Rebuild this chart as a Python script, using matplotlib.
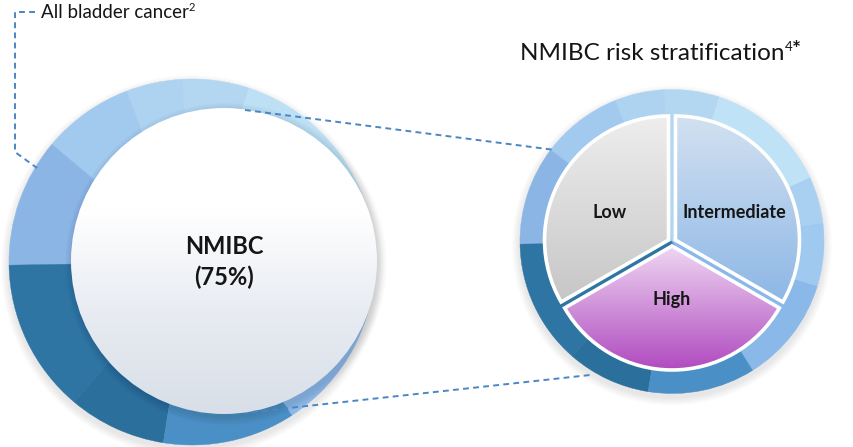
"""NMIBC share of all bladder cancer and its risk stratification, as two ring diagrams."""

import matplotlib

matplotlib.use("Agg")
import matplotlib.pyplot as plt
import numpy as np
from matplotlib.colors import LinearSegmentedColormap
from matplotlib.patches import Circle, Wedge

W, H = 854, 447

# outer ring facets of the "all bladder cancer" circle (degrees, counter-clockwise)
LEFT_RING_EDGES = [-57, 0, 72, 93, 111, 140, 181, 230, 261, 303]
LEFT_RING_COLORS = ["#8cb9e8", "#bde0f5", "#b3d6f1", "#aed3f0", "#a2c9ee",
                    "#8ab5e5", "#2e75a3", "#2b6f9d", "#4a8fc5"]

# outer ring facets of the risk circle
RIGHT_RING_EDGES = [-58, -17, 7, 25, 72, 93, 112, 143, 181, 229, 261, 302]
RIGHT_RING_COLORS = ["#8ab8e8", "#a0c9ef", "#a9d0f1", "#bfe2f6", "#b3d6f1",
                     "#aed3f0", "#a2c9ee", "#8ab5e5", "#2e75a3", "#2b6f9d",
                     "#4a8fc5"]

CENTER_LABEL = "NMIBC\n(75%)"
RISK_LABELS = ["Low", "High", "Intermediate"]
RISK_SHARES = [1, 1, 1]
RISK_TOP = ["#eeeeee", "#efd7f2", "#d3e1f1"]
RISK_BOTTOM = ["#c6c6c6", "#b04ac0", "#8db7e6"]

LINE_COLOR = "#4a86c4"
FONT = ["Lato", "DejaVu Sans"]
INK = "#151515"


def fy(y):
    return H - y


def gradient(ax, patch, top, bottom, stops=None, z=3):
    x0, y0, x1, y1 = patch.get_path().get_extents(patch.get_patch_transform()).extents
    colors = [bottom, top] if stops is None else stops
    cmap = LinearSegmentedColormap.from_list("g", colors)
    img = ax.imshow(np.linspace(0, 1, 256).reshape(-1, 1), cmap=cmap, origin="lower",
                    extent=[x0, x1, y0, y1], aspect="auto", zorder=z,
                    interpolation="bicubic")
    img.set_clip_path(patch)


def ring(ax, center, r, edges, colors):
    for a0, a1, c in zip(edges[:-1], edges[1:], colors):
        ax.add_patch(Wedge(center, r, a0, a1, facecolor=c, edgecolor=c,
                           linewidth=0.3, zorder=2))


def shadow(ax, center, r, dy=4, z=1):
    for k in range(8):
        ax.add_patch(Circle((center[0], center[1] - dy), r + 8 - k,
                            facecolor="#000000", alpha=0.012, linewidth=0, zorder=z))


fig = plt.figure(figsize=(W / 100, H / 100), dpi=100)
ax = fig.add_axes([0, 0, 1, 1])
ax.set_xlim(0, W)
ax.set_ylim(0, H)
ax.axis("off")

# left: all bladder cancer
left_c = (192, fy(262))
shadow(ax, left_c, 183)
ring(ax, left_c, 183, LEFT_RING_EDGES, LEFT_RING_COLORS)
white_c = (224, fy(261))
shadow(ax, (white_c[0] + 2, white_c[1]), 153, dy=3, z=2.5)
disc = Circle(white_c, 153, facecolor="none", edgecolor="none", zorder=3)
ax.add_patch(disc)
gradient(ax, disc, None, None, stops=["#d8dfe8", "#e8ecf2", "#ffffff", "#ffffff"], z=3)
ax.text(white_c[0], white_c[1] - 1, CENTER_LABEL, ha="center", va="center",
        fontsize=17, fontweight="bold", family=FONT, color=INK,
        linespacing=1.35, zorder=6)

# right: risk stratification
right_c = (672, fy(241.5))
shadow(ax, right_c, 152)
ring(ax, right_c, 152, RIGHT_RING_EDGES, RIGHT_RING_COLORS)

pie_c = (672, fy(242))
angles = np.cumsum([0] + RISK_SHARES) / sum(RISK_SHARES) * 360 + 90
for i, label in enumerate(RISK_LABELS):
    a0, a1 = angles[i], angles[i + 1]
    mid = np.deg2rad((a0 + a1) / 2)
    c = (pie_c[0] + 4 * np.cos(mid), pie_c[1] + 4 * np.sin(mid))
    w = Wedge(c, 124, a0, a1, facecolor="none", edgecolor="none", zorder=3)
    ax.add_patch(w)
    gradient(ax, w, RISK_TOP[i], RISK_BOTTOM[i], z=3)
    ax.add_patch(Wedge(c, 124, a0, a1, facecolor="none", edgecolor="white",
                       linewidth=2.6, zorder=4))
    lx = pie_c[0] + 72 * np.cos(mid)
    ly = pie_c[1] + 58 * np.sin(mid)
    ax.text(lx, ly, label, ha="center", va="center", fontsize=13,
            fontweight="bold", family=FONT, color=INK, zorder=6)

# connectors
dash = dict(color=LINE_COLOR, linewidth=1.4, linestyle=(0, (3, 2.2)), zorder=5)
ax.plot([35, 15, 15, 37], [fy(12), fy(12), fy(152), fy(168)], **dash)
ax.plot([245, 555], [fy(110), fy(150)], **dash)
ax.plot([252, 590], [fy(412), fy(375)], **dash)

lab = ax.text(41, fy(12), "All bladder cancer", ha="left", va="center",
              fontsize=13.5, family=FONT, color=INK)
ax.annotate("2", xy=(1, 1.08), xycoords=lab, ha="left", va="top",
            fontsize=8, family=FONT, color=INK)

title = ax.text(520, fy(53), "NMIBC risk stratification", ha="left", va="center",
                fontsize=17.5, family=FONT, color=INK)
sup = ax.annotate("4", xy=(1, 1.07), xycoords=title, ha="left", va="top",
                  fontsize=9.5, family=FONT, color=INK)
ax.annotate("*", xy=(1, 1.12), xycoords=sup, ha="left", va="top",
            fontsize=15, fontweight="bold", family=FONT, color=INK)

fig.savefig("out.png", dpi=100)
